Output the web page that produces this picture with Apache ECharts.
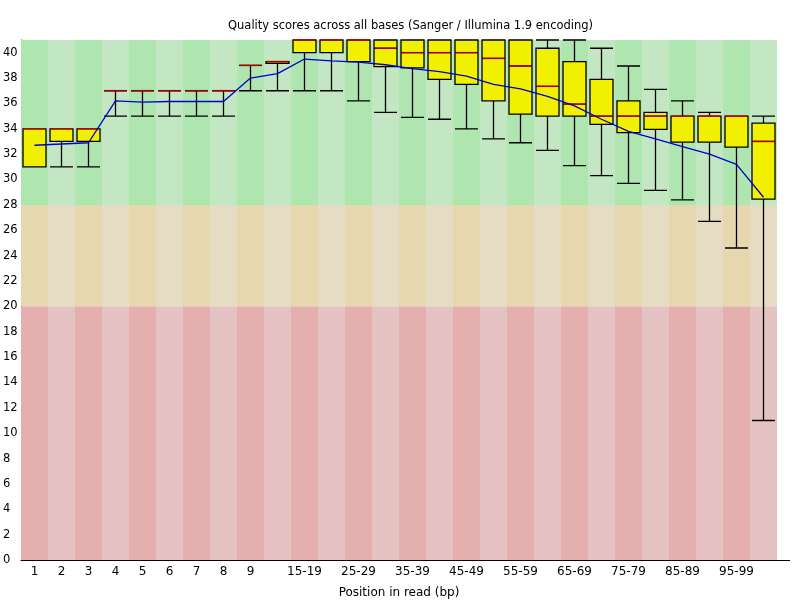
<!DOCTYPE html>
<html>
<head>
<meta charset="utf-8">
<title>Per base sequence quality</title>
<script src="https://cdn.jsdelivr.net/npm/echarts@6/dist/echarts.min.js"></script>
<style>
  html, body { margin: 0; padding: 0; background: #fff; }
  #chart { width: 800px; height: 600px; }
</style>
</head>
<body>
<div id="chart"></div>
<script>
// positions in read (bp), grouped after 9
var categories = ['1', '2', '3', '4', '5', '6', '7', '8', '9',
  '10-14', '15-19', '20-24', '25-29', '30-34', '35-39', '40-44', '45-49',
  '50-54', '55-59', '60-64', '65-69', '70-74', '75-79', '80-84', '85-89',
  '90-94', '95-99', '100-101'];

// 10th percentile / lower quartile / median / upper quartile / 90th percentile
var lower10 = [31, 31, 31, 35, 35, 35, 35, 35, 37, 37, 37, 37, 36.2, 35.3, 34.9, 34.75, 34, 33.2, 32.9, 32.3, 31.1, 30.3, 29.7, 29.15, 28.4, 26.7, 24.6, 11];
var q1 = [31, 33, 33, 37, 37, 37, 37, 37, 39, 39.15, 40, 40, 39.3, 38.9, 38.8, 37.9, 37.5, 36.2, 35.15, 35, 35, 34.35, 33.7, 33.95, 32.95, 32.95, 32.55, 28.45];
var median = [34, 34, 34, 37, 37, 37, 37, 37, 39, 39.3, 41, 41, 41, 40.35, 40, 40, 40, 39.55, 38.95, 37.35, 35.95, 35, 35, 35, 35, 35, 35, 33];
var q3 = [34, 34, 34, 37, 37, 37, 37, 37, 39, 39.3, 41, 41, 41, 41, 41, 41, 41, 41, 41, 40.35, 39.3, 37.9, 36.2, 35.3, 35, 35, 35, 34.45];
var upper90 = [34, 34, 34, 37, 37, 37, 37, 37, 39, 39.3, 41, 41, 41, 41, 41, 41, 41, 41, 41, 41, 41, 40.35, 38.95, 37.1, 36.2, 35.3, 35, 35];
var mean = [32.7, 32.8, 32.9, 36.2, 36.1, 36.15, 36.15, 36.15, 38.0, 38.35, 39.5, 39.35, 39.25, 39.05, 38.75, 38.5, 38.15, 37.5, 37.15, 36.55, 35.8, 34.75, 33.8, 33.2, 32.6, 32.0, 31.2, 28.6];

// quality bands: red 0-20, orange 20-28, green 28-41
var bandEdges = [0, 20, 28, 41];
var bandColors = [
  ['#e6afaf', '#e6c3c3'],
  ['#e6d7af', '#e6dcc3'],
  ['#afe6af', '#c3e6c3']
];

var font = 'DejaVu Sans';
var chart = echarts.init(document.getElementById('chart'));

var boxData = categories.map(function (c, i) {
  return [lower10[i], q1[i], median[i], q3[i], upper90[i]];
});

var series = [];
for (var b = 0; b < 3; b++) {
  (function (b) {
    series.push({
      type: 'bar',
      stack: 'bands',
      silent: true,
      barCategoryGap: '0%',
      z: 0,
      data: categories.map(function () { return bandEdges[b + 1] - bandEdges[b]; }),
      itemStyle: {
        color: function (p) { return bandColors[b][p.dataIndex % 2]; }
      }
    });
  })(b);
}

series.push({
  type: 'boxplot',
  data: boxData,
  boxWidth: [23, 23],
  z: 2,
  itemStyle: { color: '#f0f000', borderColor: '#000', borderWidth: 1.3 }
});

// red median bars drawn over the boxes
series.push({
  type: 'scatter',
  data: median,
  symbol: 'rect',
  symbolSize: [22, 1.6],
  z: 3,
  itemStyle: { color: '#cc0000' }
});

series.push({
  type: 'line',
  data: mean,
  symbol: 'none',
  z: 4,
  lineStyle: { color: '#0000d0', width: 1.3 }
});

chart.setOption({
  animation: false,
  title: {
    text: 'Quality scores across all bases (Sanger / Illumina 1.9 encoding)',
    left: 223,
    top: 15,
    textStyle: { fontFamily: font, fontSize: 11.5, fontWeight: 'normal', color: '#000' }
  },
  grid: { left: 21, right: 23, top: 40, bottom: 40, outerBoundsMode: 'none' },
  xAxis: {
    type: 'category',
    data: categories,
    boundaryGap: true,
    name: 'Position in read (bp)',
    nameLocation: 'middle',
    nameGap: 27,
    nameTextStyle: { fontFamily: font, fontSize: 12, color: '#000' },
    axisLine: { lineStyle: { color: '#000', width: 1 } },
    axisTick: { show: false },
    axisLabel: {
      fontFamily: font, fontSize: 12, color: '#000', margin: 6,
      interval: function (i) {
        return i < 9 || (i >= 10 && i < 27 && (i - 10) % 2 === 0);
      }
    },
    splitLine: { show: false }
  },
  yAxis: {
    type: 'value',
    min: 0,
    max: 41,
    interval: 2,
    axisLine: { show: true, lineStyle: { color: '#000', width: 1 } },
    axisTick: { show: false },
    splitLine: { show: false },
    axisLabel: {
      fontFamily: font, fontSize: 11.5, color: '#000',
      align: 'left', margin: 18, showMaxLabel: false,
      padding: [7, 0, 0, 0]
    }
  },
  graphic: [{
    type: 'line',
    shape: { x1: 777, y1: 560.5, x2: 790, y2: 560.5 },
    style: { stroke: '#000', lineWidth: 1 }
  }],
  series: series
});
</script>
</body>
</html>
